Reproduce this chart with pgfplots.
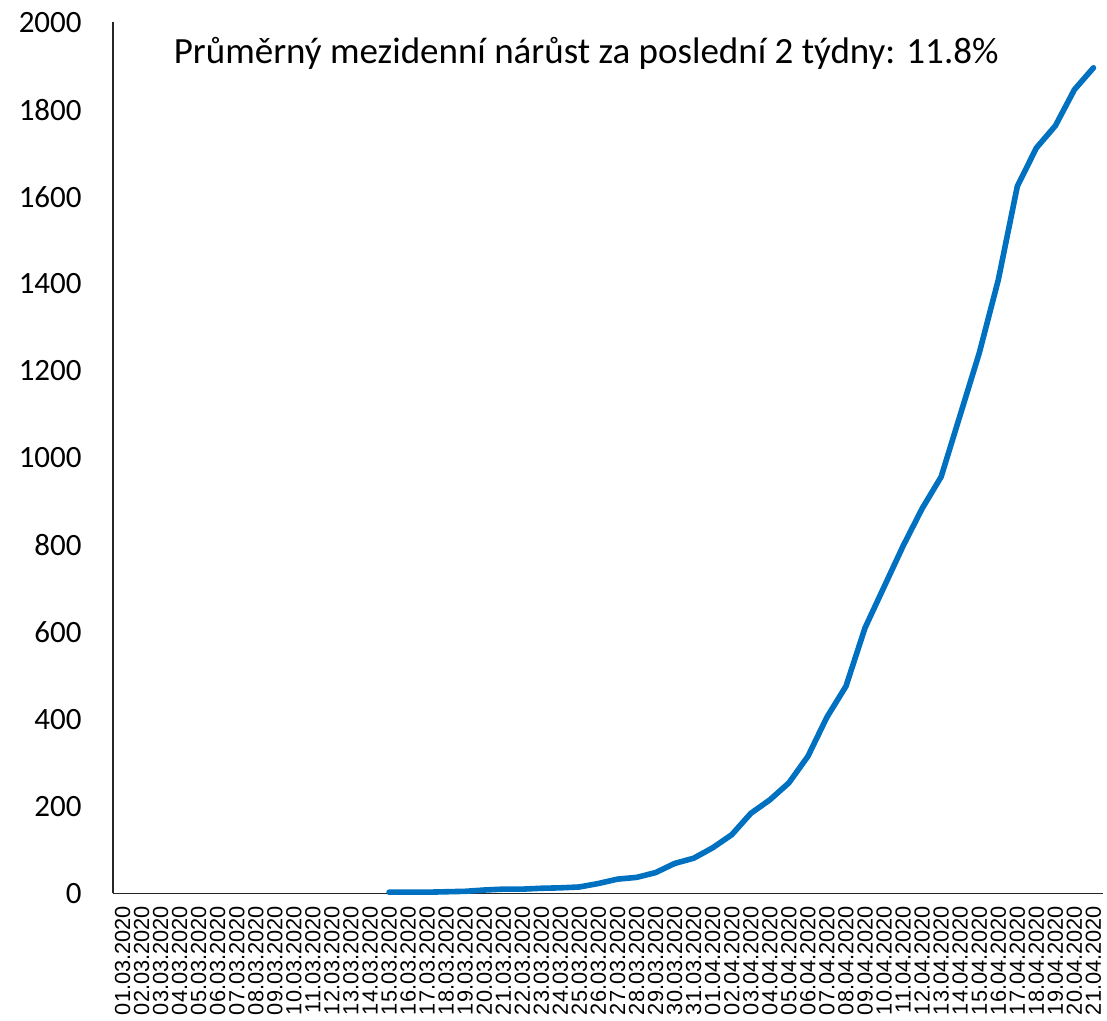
\documentclass[border=0pt]{standalone}
\usepackage{pgfplots}
\pgfplotsset{compat=1.18}
\usepackage{fontspec}
\setmainfont{Carlito}
\newfontfamily\arialf{Liberation Sans}
\definecolor{lineblue}{HTML}{0070C0}
\begin{document}
\begin{tikzpicture}
\useasboundingbox (-56.5pt,-63.75pt) rectangle (497pt,446.75pt);
\begin{axis}[
  scale only axis,
  width=495pt, height=435.5pt,
  xmin=-0.5, xmax=51.5, ymin=0, ymax=2000,
  axis x line=bottom, axis y line=left,
  axis line style={-, line width=0.9pt, color=black!85},
  major tick length=0pt,
  xtick={0,...,51},
  xticklabels={01.03.2020,02.03.2020,03.03.2020,04.03.2020,05.03.2020,06.03.2020,07.03.2020,08.03.2020,09.03.2020,10.03.2020,11.03.2020,12.03.2020,13.03.2020,14.03.2020,15.03.2020,16.03.2020,17.03.2020,18.03.2020,19.03.2020,20.03.2020,21.03.2020,22.03.2020,23.03.2020,24.03.2020,25.03.2020,26.03.2020,27.03.2020,28.03.2020,29.03.2020,30.03.2020,31.03.2020,01.04.2020,02.04.2020,03.04.2020,04.04.2020,05.04.2020,06.04.2020,07.04.2020,08.04.2020,09.04.2020,10.04.2020,11.04.2020,12.04.2020,13.04.2020,14.04.2020,15.04.2020,16.04.2020,17.04.2020,18.04.2020,19.04.2020,20.04.2020,21.04.2020},
  xticklabel style={rotate=90, anchor=east, font=\arialf\fontsize{10.9}{12}\selectfont, inner sep=0pt},
  xticklabel shift=6pt,
  ytick={0,200,...,2000},
  yticklabel style={font=\fontsize{15.5}{18}\selectfont, anchor=east, inner sep=0pt, xshift=-15.5pt},
  /pgf/number format/1000 sep={},
  /pgf/number format/assume math mode=true,
  clip=false,
]
\addplot[color=lineblue, line width=2.8pt, line join=round, line cap=round, mark=none] coordinates {
(14,3) (15,3) (16,3) (17,4) (18,5) (19,8) (20,10) (21,10) (22,12) (23,13)
(24,15) (25,23) (26,33) (27,37) (28,48) (29,69) (30,81) (31,105) (32,135) (33,184)
(34,215) (35,254) (36,315) (37,405) (38,476) (39,610) (40,704) (41,798) (42,884) (43,957)
(44,1099) (45,1241) (46,1409) (47,1624) (48,1712) (49,1763) (50,1846) (51,1896)
};
\node[font=\fontsize{18.5}{22}\selectfont, anchor=center, inner sep=0pt] at (rel axis cs:0.478,0.964) {Průměrný mezidenní nárůst za poslední 2 týdny: 11.8\%};
\end{axis}
\end{tikzpicture}
\end{document}
